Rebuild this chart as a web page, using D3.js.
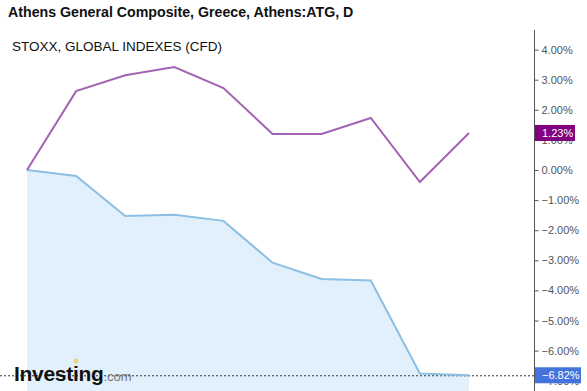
<!DOCTYPE html>
<html><head><meta charset="utf-8">
<script src="https://cdn.jsdelivr.net/npm/d3@7"></script>
<style>body{margin:0;background:#fff;}svg{display:block;}</style>
</head><body>
<script>
const categories = [0,1,2,3,4,5,6,7,8,9];
const stoxxValues = [0.00, 2.62, 3.15, 3.42, 2.72, 1.20, 1.20, 1.73, -0.40, 1.23];
const athensValues = [0.00, -0.20, -1.53, -1.49, -1.69, -3.08, -3.62, -3.67, -6.76, -6.82];
const tickValues = [4,3,2,1,0,-1,-2,-3,-4,-5,-6,-7];
const titleText = "Athens General Composite, Greece, Athens:ATG, D";
const subtitleText = "STOXX, GLOBAL INDEXES (CFD)";

const W = 587, H = 391;
const svg = d3.select("body").append("svg").attr("width", W).attr("height", H);

const x = d3.scaleLinear().domain([0, 9]).range([27, 469]);
const y = d3.scaleLinear().domain([0, -7]).range([170, 380.7]);

// area
const area = d3.area().x((d,i)=>x(categories[i])).y0(H).y1(d=>y(d));
svg.append("path").datum(athensValues).attr("d", area).attr("fill", "#e1f0fa");

// dashed last-value line
svg.append("line").attr("x1", 0).attr("x2", 534)
  .attr("y1", y(athensValues[9]) + 0.5).attr("y2", y(athensValues[9]) + 0.5)
  .attr("stroke", "#333").attr("stroke-width", 1).attr("stroke-dasharray", "2,2");

const line = d3.line().x((d,i)=>x(categories[i])).y(d=>y(d));
svg.append("path").datum(athensValues).attr("d", line).attr("fill","none")
  .attr("stroke", "#8cbfe3").attr("stroke-width", 2);
svg.append("path").datum(stoxxValues).attr("d", line).attr("fill","none")
  .attr("stroke", "#a363b3").attr("stroke-width", 2);

// axis
const axis = d3.axisRight(y).tickValues(tickValues).tickSize(4).tickPadding(3)
  .tickFormat(d => d3.format(".2f")(d) + "%");
const ag = svg.append("g").attr("transform", "translate(534.5,0)").call(axis);
ag.select(".domain").attr("stroke", "#555").attr("d", "M0,30V" + H);
ag.selectAll(".tick line").attr("stroke", "#555").attr("x1", -0).attr("x2", 4);
ag.selectAll(".tick text").attr("fill", "#555").attr("font-family", "Arial, Liberation Sans, sans-serif").attr("font-size", 11);

// value labels
function valueLabel(v, color, w) {
  const g = svg.append("g").attr("transform", `translate(535,${y(v)})`);
  g.append("rect").attr("x", 0).attr("y", -8).attr("width", w).attr("height", 16).attr("fill", color);
  g.append("text").attr("x", 7).attr("y", 4).attr("fill", "#fff")
    .attr("font-family", "Arial, Liberation Sans, sans-serif").attr("font-size", 11)
    .text(d3.format(".2f")(v) + "%");
}
valueLabel(stoxxValues[9], "#800080", 40);
valueLabel(athensValues[9], "#4572dd", 46);

// titles
svg.append("text").attr("x", 8).attr("y", 17).text(titleText)
  .attr("font-family", "Arial, Liberation Sans, sans-serif").attr("font-size", 14.2).attr("font-weight", "bold").attr("fill", "#111");
svg.append("text").attr("x", 12).attr("y", 51).text(subtitleText)
  .attr("font-family", "Arial, Liberation Sans, sans-serif").attr("font-size", 13.5).attr("fill", "#111");

// logo
const logo = svg.append("text").attr("x", 14).attr("y", 381)
  .attr("font-family", "Arial, Liberation Sans, sans-serif");
logo.append("tspan").text("Investing").attr("font-size", 21).attr("font-weight", 900).attr("fill", "#111").attr("letter-spacing", -0.3);
logo.append("tspan").text(".com").attr("font-size", 13).attr("fill", "#777");
svg.append("circle").attr("cx", 76).attr("cy", 361).attr("r", 2.5).attr("fill", "#e8d48a");
</script>
</body></html>
